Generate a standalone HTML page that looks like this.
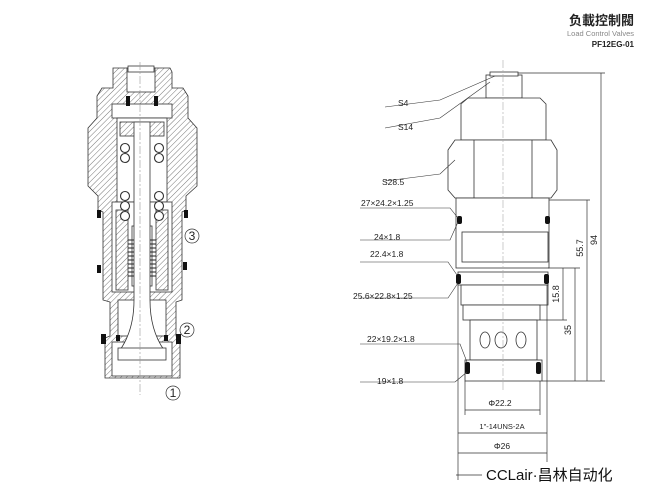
<!DOCTYPE html>
<html><head><meta charset="utf-8"><style>
body{margin:0;background:#fff;}
svg{display:block;font-family:"Liberation Sans","Noto Sans CJK SC",sans-serif;}
</style></head><body>
<svg width="650" height="496" viewBox="0 0 650 496" xmlns="http://www.w3.org/2000/svg">
<defs>
<pattern id="h" width="4" height="4" patternUnits="userSpaceOnUse" patternTransform="rotate(45)">
<rect width="4" height="4" fill="#fff"/><line x1="0" y1="0" x2="0" y2="4" stroke="#555" stroke-width="0.8"/>
</pattern>
</defs>
<text x="634" y="25" font-size="13" font-weight="bold" text-anchor="end" fill="#222">负載控制閥</text>
<text x="634" y="36" font-size="7.5" text-anchor="end" fill="#888">Load Control Valves</text>
<text x="634" y="47" font-size="8" font-weight="bold" text-anchor="end" fill="#222">PF12EG-01</text>

<g stroke="#333" stroke-width="0.8">
<path d="M113 68 L170 68 L172 72 L172 88 L183 88 L188 96 L188 118 L197 128 L197 186 L186 196 L186 210 L182 212 L182 300 L176 302 L176 336 L180 338 L180 378 L105 378 L105 338 L110 336 L110 302 L103 300 L103 212 L98 210 L98 196 L88 186 L88 128 L97 118 L97 96 L102 88 L113 88 Z" fill="url(#h)"/>
<rect x="127" y="68" width="28" height="24" fill="#fff"/>
<rect x="128" y="66" width="26" height="6" fill="#fff"/>
<rect x="112" y="104" width="60" height="14" fill="#fff"/>
<rect x="117" y="118" width="50" height="84" fill="#fff"/>
<rect x="120" y="122" width="44" height="14" fill="url(#h)"/>
<rect x="112" y="202" width="60" height="90" fill="#fff"/>
<rect x="116" y="210" width="12" height="80" fill="url(#h)"/>
<rect x="156" y="210" width="12" height="80" fill="url(#h)"/>
<rect x="132" y="226" width="20" height="60" fill="#fff"/>
<rect x="118" y="300" width="48" height="36" fill="#fff"/>
<rect x="112" y="342" width="60" height="34" fill="#fff"/>
<path d="M134 122 L134 300 Q134 330 120 350 L164 350 Q150 330 150 300 L150 122 Z" fill="#fff"/>
<rect x="118" y="348" width="48" height="12" fill="#fff"/>
</g>
<g fill="#fff" stroke="#333" stroke-width="1.1">
<circle cx="125" cy="148" r="4.5"/><circle cx="159" cy="148" r="4.5"/>
<circle cx="125" cy="158" r="4.5"/><circle cx="159" cy="158" r="4.5"/>
<circle cx="125" cy="196" r="4.5"/><circle cx="159" cy="196" r="4.5"/>
<circle cx="125" cy="206" r="4.5"/><circle cx="159" cy="206" r="4.5"/>
<circle cx="125" cy="216" r="4.5"/><circle cx="159" cy="216" r="4.5"/>
</g>
<g stroke="#222" stroke-width="0.9">
<path d="M128 240 h6 M128 244 h6 M128 248 h6 M128 252 h6 M128 256 h6 M128 260 h6 M128 264 h6 M128 268 h6 M128 272 h6 M128 276 h6 M150 240 h6 M150 244 h6 M150 248 h6 M150 252 h6 M150 256 h6 M150 260 h6 M150 264 h6 M150 268 h6 M150 272 h6 M150 276 h6"/>
</g>
<g fill="#111">
<rect x="126" y="96" width="4" height="10"/><rect x="154" y="96" width="4" height="10"/>
<rect x="97" y="210" width="4" height="8"/><rect x="184" y="210" width="4" height="8"/>
<rect x="97" y="265" width="4" height="8"/><rect x="183" y="262" width="4" height="8"/>
<rect x="101" y="334" width="5" height="10"/><rect x="176" y="334" width="5" height="10"/>
<rect x="116" y="335" width="4" height="6"/><rect x="164" y="335" width="4" height="6"/>
</g>
<line x1="140" y1="62" x2="140" y2="395" stroke="#999" stroke-width="0.6" stroke-dasharray="8,2,2,2"/>
<g font-size="12" fill="#222" stroke="#333" stroke-width="0.7">
<circle cx="192" cy="236" r="7" fill="none"/><text x="192" y="240" text-anchor="middle" stroke="none">3</text>
<circle cx="187" cy="330" r="7" fill="none"/><text x="187" y="334" text-anchor="middle" stroke="none">2</text>
<circle cx="173" cy="393" r="7" fill="none"/><text x="173" y="397" text-anchor="middle" stroke="none">1</text>
</g>

<g fill="#fff" stroke="#333" stroke-width="0.8">
<rect x="486" y="75" width="36" height="23"/>
<rect x="490" y="72" width="28" height="4"/>
<path d="M461 140 L461 104 L468 98 L540 98 L546 104 L546 140 Z"/>
<path d="M448 150 L455 140 L551 140 L557 150 L557 190 L551 198 L455 198 L448 190 Z"/>
<line x1="474" y1="140" x2="474" y2="198"/><line x1="532" y1="140" x2="532" y2="198"/>
<rect x="456" y="198" width="93" height="70"/>
<rect x="462" y="232" width="86" height="30"/>
<rect x="458" y="272" width="90" height="13"/>
<rect x="461" y="285" width="87" height="20"/>
<rect x="463" y="305" width="77" height="15"/>
<rect x="470" y="320" width="67" height="40"/>
<rect x="465" y="360" width="77" height="21"/>
<ellipse cx="485" cy="340" rx="5" ry="8"/><ellipse cx="501" cy="340" rx="6" ry="8"/><ellipse cx="521" cy="340" rx="5" ry="8"/>
</g>
<g fill="#111">
<rect x="457" y="216" width="5" height="8" rx="2"/><rect x="545" y="216" width="5" height="8" rx="2"/>
<rect x="456" y="274" width="5" height="10" rx="2"/><rect x="544" y="274" width="5" height="10" rx="2"/>
<rect x="465" y="362" width="5" height="12" rx="2"/><rect x="536" y="362" width="5" height="12" rx="2"/>
</g>
<line x1="503" y1="60" x2="503" y2="392" stroke="#aaa" stroke-width="0.6" stroke-dasharray="8,2,2,2"/>
<g stroke="#333" stroke-width="0.7" fill="none">
<line x1="518" y1="73" x2="605" y2="73"/><line x1="601" y1="73" x2="601" y2="381"/>
<line x1="549" y1="200" x2="590" y2="200"/><line x1="587" y1="200" x2="587" y2="381"/>
<line x1="548" y1="268" x2="580" y2="268"/><line x1="575" y1="268" x2="575" y2="381"/><line x1="563" y1="268" x2="563" y2="320"/>
<line x1="540" y1="320" x2="567" y2="320"/>
<line x1="542" y1="381" x2="605" y2="381"/>
<line x1="458" y1="285" x2="458" y2="480"/><line x1="547" y1="285" x2="547" y2="462"/>
<line x1="465" y1="381" x2="465" y2="415"/><line x1="540" y1="381" x2="540" y2="415"/>
<line x1="465" y1="410" x2="540" y2="410"/>
<line x1="458" y1="433" x2="547" y2="433"/>
<line x1="458" y1="453" x2="547" y2="453"/>
<line x1="456" y1="475" x2="482" y2="475"/>
</g>
<g fill="#222" font-size="8.5">
<text x="500" y="406" text-anchor="middle">Φ22.2</text>
<text x="502" y="429" text-anchor="middle" font-size="7.5">1"-14UNS-2A</text>
<text x="502" y="449" text-anchor="middle">Φ26</text>
<text transform="translate(597,240) rotate(-90)" text-anchor="middle" font-size="9">94</text>
<text transform="translate(583,248) rotate(-90)" text-anchor="middle" font-size="9">55.7</text>
<text transform="translate(571,330) rotate(-90)" text-anchor="middle" font-size="9">35</text>
<text transform="translate(559,294) rotate(-90)" text-anchor="middle" font-size="9">15.8</text>
</g>
<g stroke="#333" stroke-width="0.6" fill="none">
<path d="M385 107 L440 100 L495 76"/>
<path d="M385 128 L440 118 L490 82"/>
<path d="M385 181 L440 174 L455 160"/>
<path d="M360 208 L450 208 L458 218"/>
<path d="M360 240 L450 240 L458 222"/>
<path d="M360 262 L448 262 L457 275"/>
<path d="M360 298 L448 298 L458 283"/>
<path d="M360 344 L460 344 L467 362"/>
<path d="M360 382 L455 382 L467 372"/>
</g>
<g fill="#222" font-size="8.5">
<text x="398" y="106">S4</text>
<text x="398" y="130">S14</text>
<text x="382" y="185">S28.5</text>
<text x="361" y="206">27×24.2×1.25</text>
<text x="374" y="240">24×1.8</text>
<text x="370" y="257">22.4×1.8</text>
<text x="353" y="299">25.6×22.8×1.25</text>
<text x="367" y="342">22×19.2×1.8</text>
<text x="377" y="384">19×1.8</text>
</g>
<text x="486" y="480" font-size="15" fill="#111">CCLair·昌林自动化</text>
</svg>
</body></html>
